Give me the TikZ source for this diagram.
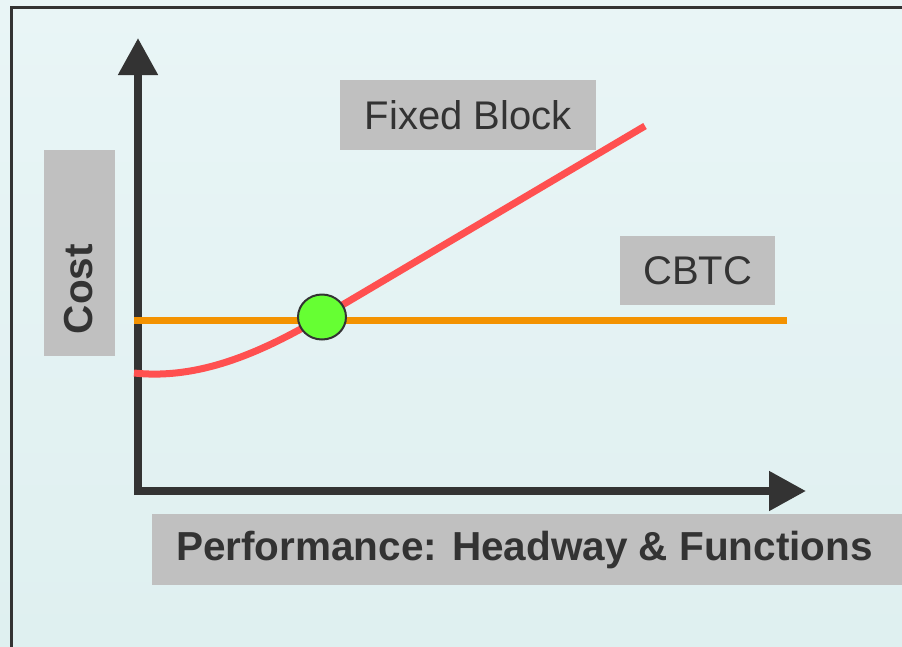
\documentclass[tikz,border=0pt]{standalone}
\usepackage{fontspec}
\setmainfont{Liberation Sans}
\usetikzlibrary{arrows.meta,shapes.geometric}
\definecolor{axisc}{HTML}{333333}
\definecolor{boxc}{HTML}{C0C0C0}
\definecolor{redc}{HTML}{FF5050}
\definecolor{orangec}{HTML}{F39200}
\definecolor{greenc}{HTML}{66FF33}
\definecolor{bgtop}{HTML}{E9F5F6}
\definecolor{bgbot}{HTML}{DFF0F0}
\tikzset{
  lbl/.style={fill=boxc, text=axisc, font=\fontsize{40}{44}\selectfont, inner sep=0pt, anchor=north west},
  boldtxt/.style={text=axisc, font=\fontsize{40.5}{44}\selectfont\bfseries},
  axisline/.style={draw=axisc, line width=8pt, -{Triangle[width=38pt,length=37pt]}},
}
\begin{document}
\begin{tikzpicture}[x=1pt,y=-1pt]
\useasboundingbox (0,0) rectangle (902,646);
\shade[top color=bgtop, bottom color=bgbot] (0,0) rectangle (902,646);
\draw[axisc, line width=3pt] (11,660) -- (11,7.5) -- (915,7.5);
% labels
\node[lbl, minimum width=256pt, minimum height=70pt] (fb) at (340,80) {Fixed Block};
\node[lbl, minimum width=155pt, minimum height=69pt] (cb) at (620,236) {CBTC};
\node[lbl, minimum width=71pt, minimum height=206pt] (cost) at (44,150) {};
\node[boldtxt, rotate=90] (costt) at (79,289) {Cost};
\node[lbl, minimum width=760pt, minimum height=71pt] (perf) at (152,514) {};
\node[boldtxt] (perft) at (524.5,550) {Performance: Headway \& Functions};
% axes
\coordinate (ytop) at (138,38);
\coordinate (xend) at (806,491);
\coordinate (ybot) at (138,495);
\coordinate (xbeg) at (134,491);
\draw[axisline] (ybot) -- (ytop);
\draw[axisline] (xbeg) -- (xend);
% curves
\coordinate (os) at (134,320);
\coordinate (oe) at (787,320);
\draw[orangec, line width=7pt] (os) -- (oe);
\coordinate (rs) at (134,373);
\coordinate (rx) at (322,317);
\coordinate (re) at (645,126);
\draw[redc, line width=7pt] (rs) .. controls (200,380) and (262,352) .. (rx) -- (re);
\node[draw=axisc, line width=2pt, fill=greenc, ellipse, minimum width=48pt, minimum height=45pt, inner sep=0pt] (dot) at (rx) {};
\end{tikzpicture}
\end{document}
